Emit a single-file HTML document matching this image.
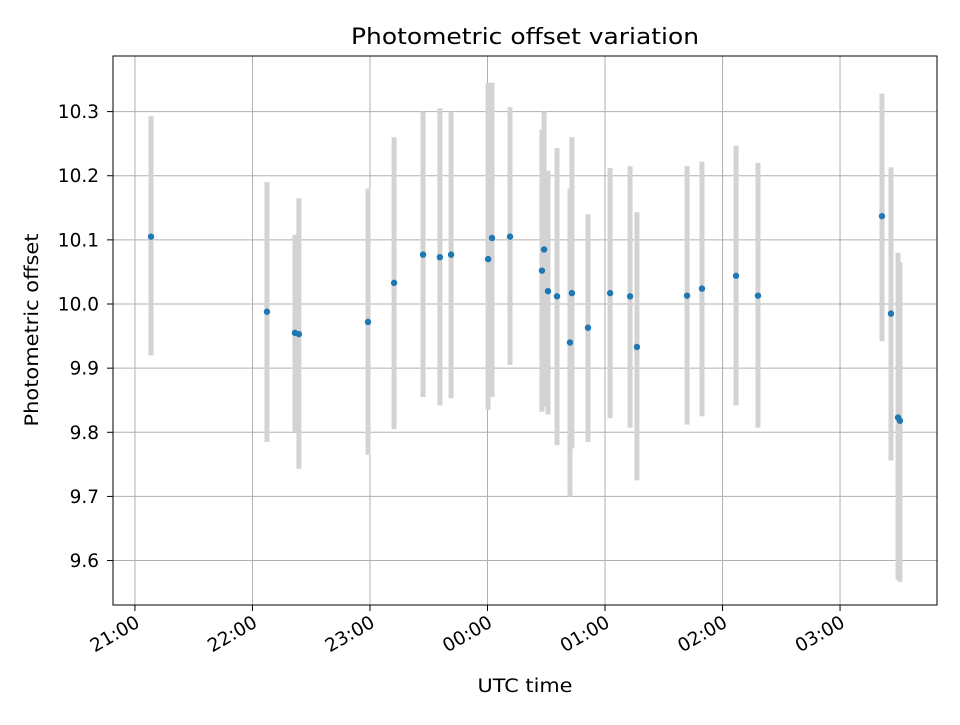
<!DOCTYPE html>
<html><head><meta charset="utf-8"><style>
body{margin:0;background:#fff}
svg text{font-family:"DejaVu Sans","Liberation Sans",sans-serif;fill:#000}
</style></head><body>
<svg id="chart" width="960" height="720" viewBox="0 0 960 720" xmlns="http://www.w3.org/2000/svg">
<rect width="960" height="720" fill="#fff"/>
<g id="grid"></g><g id="bars"></g><g id="pts"></g><g id="ticks"></g>
<rect x="113" y="56" width="824" height="549" fill="none" stroke="#000" stroke-width="1"/>
<text x="525" y="44" font-size="22" text-anchor="middle" textLength="348" lengthAdjust="spacingAndGlyphs">Photometric offset variation</text>
<text x="525" y="692" font-size="18.5" text-anchor="middle" textLength="95" lengthAdjust="spacingAndGlyphs">UTC time</text>
<text transform="translate(38,330) rotate(-90)" font-size="18.5" text-anchor="middle" textLength="193" lengthAdjust="spacingAndGlyphs">Photometric offset</text>
</svg>
<script>
// minutes since 21:00 UTC
const times=[8.2,67.4,81.7,83.7,119,132.3,147.1,155.7,161.4,180.3,182.3,191.5,207.8,208.9,210.9,215.5,222.1,223.1,231.3,242.6,252.8,256.3,281.9,289.5,306.9,318.1,381.4,386,389.6,390.6];
const offsets=[10.105,9.988,9.955,9.953,9.972,10.033,10.077,10.073,10.077,10.07,10.103,10.105,10.052,10.085,10.02,10.012,9.94,10.017,9.963,10.017,10.012,9.933,10.013,10.024,10.044,10.013,10.137,9.985,9.823,9.818];
const errLow=[9.92,9.785,9.80,9.743,9.765,9.805,9.855,9.842,9.853,9.835,9.855,9.905,9.832,9.84,9.828,9.78,9.70,9.775,9.785,9.822,9.807,9.725,9.812,9.825,9.842,9.807,9.942,9.756,9.57,9.567];
const errHigh=[10.293,10.19,10.108,10.165,10.18,10.26,10.30,10.305,10.30,10.345,10.345,10.307,10.272,10.30,10.208,10.243,10.18,10.26,10.14,10.212,10.215,10.143,10.215,10.222,10.247,10.22,10.328,10.213,10.08,10.065];
const yTicks=[9.6,9.7,9.8,9.9,10.0,10.1,10.2,10.3];
const xTickMin=[0,60,120,180,240,300,360];
const xTickLabels=["21:00","22:00","23:00","00:00","01:00","02:00","03:00"];
const X0=113,X1=937,Y0=605,Y1=56,xmin=-11.2,xmax=409.5,ymin=9.5307,ymax=10.3867;
const sx=m=>X0+(m-xmin)/(xmax-xmin)*(X1-X0);
const sy=v=>Y0-(v-ymin)/(ymax-ymin)*(Y0-Y1);
const NS="http://www.w3.org/2000/svg";
function mk(t,a,p){const e=document.createElementNS(NS,t);for(const k in a)e.setAttribute(k,a[k]);p.appendChild(e);return e;}
const G=document.getElementById('grid'),B=document.getElementById('bars'),P=document.getElementById('pts'),T=document.getElementById('ticks');
yTicks.forEach(v=>{const y=sy(v);
 const l=mk('line',{x1:X0,x2:X1,y1:y,y2:y,stroke:'#b0b0b0','stroke-width':1},G);
 
 
 mk('line',{x1:X0-6,x2:X0,y1:y,y2:y,stroke:'#000'},T);
 const t=mk('text',{x:X0-14,y:y+6.5,'font-size':18.5,'text-anchor':'end'},T);t.textContent=v.toFixed(1);
 
 
});
xTickMin.forEach((m,i)=>{const x=sx(m);
 const l=mk('line',{x1:x,x2:x,y1:Y1,y2:Y0,stroke:'#b0b0b0','stroke-width':1},G);
 
 
 mk('line',{x1:x,x2:x,y1:Y0,y2:Y0+6,stroke:'#000'},T);
 const t=mk('text',{transform:`translate(${x+6},${Y0+21}) rotate(-30)`,'font-size':18.5,'text-anchor':'end'},T);t.textContent=xTickLabels[i];
 
 
});
times.forEach((m,i)=>{const x=sx(m);
 const b=mk('line',{x1:x,x2:x,y1:sy(errLow[i]),y2:sy(errHigh[i]),stroke:'#d3d3d3','stroke-width':5},B);
 
 
 const c=mk('circle',{cx:x,cy:sy(offsets[i]),r:3.2,fill:'#1f77b4'},P);
 
 
});
</script>
</body></html>
